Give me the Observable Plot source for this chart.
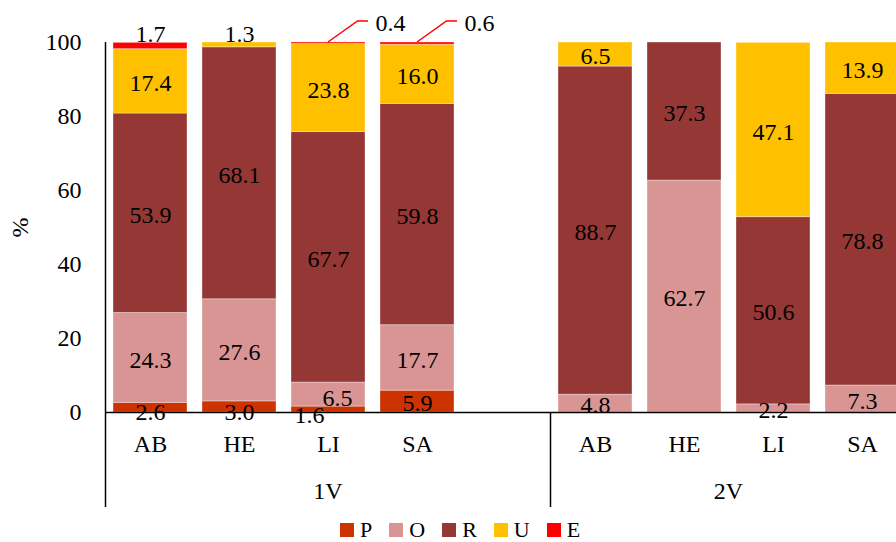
<!DOCTYPE html>
<html>
<head>
<meta charset="utf-8">
<script src="https://cdn.jsdelivr.net/npm/d3@7"></script>
<script src="https://cdn.jsdelivr.net/npm/@observablehq/plot@0.6"></script>
<style>
  html, body { margin: 0; padding: 0; background: #fff; overflow: hidden; }
  #chart { width: 896px; font-family: "Liberation Serif", "Times New Roman", serif; }
  .lg-swatches { font-family: "Liberation Serif", "Times New Roman", serif !important; font-size: 22px !important; line-height: 23px; min-height: 23px !important; height: 23px; color: #000; margin-top: 0 !important; margin-bottom: 0 !important; }
  .lg-swatch { margin-right: 17px !important; }
  .lg-swatch > svg { margin-right: 6px !important; }
</style>
</head>
<body>
<div id="chart"></div>
<script>
// Vine groups and sites
const groups = ["1V", "2V"];
const sites = ["AB", "HE", "LI", "SA"];

// Fractions, stacked bottom to top, and their fills
const fractions = ["P", "O", "R", "U", "E"];
const fractionColors = ["#CC3300", "#D99594", "#953735", "#FFC000", "#FF0000"];

// Share of each fraction (%), in order 1V AB, HE, LI, SA, 2V AB, HE, LI, SA
const P = [2.6, 3.0, 1.6, 5.9, 0, 0, 0, 0];
const O = [24.3, 27.6, 6.5, 17.7, 4.8, 62.7, 2.2, 7.3];
const R = [53.9, 68.1, 67.7, 59.8, 88.7, 37.3, 50.6, 78.8];
const U = [17.4, 1.3, 23.8, 16.0, 6.5, 0, 47.1, 13.9];
const E = [1.7, 0, 0.4, 0.6, 0, 0, 0, 0];

const yTicks = [0, 20, 40, 60, 80, 100];

// ---- table built from the arrays above ----
const series = [P, O, R, U, E];
const bars = groups.flatMap((g, gi) => sites.map((s, si) => ({key: `${g}|${s}`, i: gi * sites.length + si})));
const rows = bars.flatMap(({key, i}) =>
  fractions.map((f, fi) => ({key, fraction: f, value: series[fi][i], id: `${key}|${f}`}))
).filter(d => d.value > 0);
const totals = new Map(bars.map(({key}) => [key, d3.sum(rows.filter(r => r.key === key), r => r.value)]));

// category slots: an empty slot closes the first group
const domain = groups.flatMap((g, gi) => {
  const keys = sites.map(s => `${g}|${s}`);
  return gi < groups.length - 1 ? [...keys, `${g}|`] : keys;
});

// label placement tweaks (pixels) for crowded segments
const labelNudge = new Map([
  ["1V|AB|E", [0, -12]],
  ["1V|HE|U", [0, -11]],
  ["1V|AB|P", [0, 5]],
  ["1V|HE|P", [0, 5]],
  ["1V|LI|P", [-19, 6]],
  ["1V|LI|O", [9, 3.5]]
]);
const calloutIds = ["1V|LI|E", "1V|SA|E"];

const FONT = '"Liberation Serif", "Times New Roman", serif';
const stacked = (opts) => Plot.stackY({x: "key", y: "value", z: "fraction", order: fractions, ...opts});
const fmt = d => d.value.toFixed(1);

function bandInfo(x) {
  const step = x(domain[1]) - x(domain[0]);
  const bw = typeof x.bandwidth === "function" ? x.bandwidth() : (x.bandwidth ?? step * 0.83);
  return {step, bw, half: (step - bw) / 2};
}

// multi-level category frame: axis lines, group separators and group names
function categoryFrame(index, {x, y}) {
  const {bw, half} = bandInfo(x);
  const y0 = y(0), yBottom = y0 + 95;
  const g = d3.create("svg:g");
  const firstKeys = groups.map(gr => domain.find(k => k.startsWith(gr + "|")));
  const lastKey = domain[domain.length - 1];
  const edges = firstKeys.map(k => x(k) - half);
  edges.push(x(lastKey) + bw + half);
  g.append("line")
    .attr("x1", edges[0]).attr("x2", edges[0])
    .attr("y1", y(d3.max(yTicks))).attr("y2", yBottom)
    .attr("stroke", "#000").attr("stroke-width", 1.5);
  edges.slice(1, -1).forEach(ex => {
    g.append("line")
      .attr("x1", ex).attr("x2", ex)
      .attr("y1", y0).attr("y2", yBottom)
      .attr("stroke", "#000").attr("stroke-width", 1.5);
  });
  groups.forEach((gr, gi) => {
    g.append("text")
      .attr("x", (edges[gi] + edges[gi + 1]) / 2)
      .attr("y", y0 + 87)
      .attr("text-anchor", "middle")
      .attr("font-family", FONT)
      .attr("font-size", 24)
      .attr("fill", "#000")
      .text(gr);
  });
  return g.node();
}

// leader lines for the thin segments at the top of a bar
function calloutLines(index, {x, y}) {
  const {bw} = bandInfo(x);
  const g = d3.create("svg:g");
  calloutIds.forEach(id => {
    const key = id.split("|").slice(0, 2).join("|");
    const cx = x(key) + bw / 2, cy = y(totals.get(key));
    g.append("path")
      .attr("d", `M${cx},${cy}L${cx + 29.5},${cy - 21}H${cx + 40}`)
      .attr("fill", "none")
      .attr("stroke", "#FF0000")
      .attr("stroke-width", 1.5);
  });
  return g.node();
}

const textBase = {fontSize: 24, fontFamily: FONT, fill: "#000"};

const chart = Plot.plot({
  width: 896,
  height: 518,
  marginLeft: 105,
  marginRight: 0,
  marginTop: 42,
  marginBottom: 106,
  style: {fontFamily: FONT, fontSize: "24px", color: "#000", background: "#fff", overflow: "hidden"},
  x: {type: "band", domain, range: [105.5, 906.5], paddingInner: 0.17, paddingOuter: 0.085, label: null},
  y: {domain: [0, 100], label: null},
  color: {domain: fractions, range: fractionColors},
  marks: [
    Plot.barY(rows, stacked({fill: "fraction", stroke: "#fff", strokeOpacity: 0.35, strokeWidth: 1, clip: true})),
    Plot.ruleY([0], {stroke: "#000", strokeWidth: 1.5}),
    Plot.axisY({ticks: yTicks, tickSize: 0, tickPadding: 24, fontSize: 24, label: "%", labelAnchor: "center", labelOffset: 95, labelArrow: "none"}),
    Plot.axisX({tickSize: 0, tickPadding: 22, fontSize: 24, tickFormat: k => k.split("|")[1], label: null}),
    categoryFrame,
    calloutLines,
    // value labels centred in each segment
    Plot.text(rows, Plot.filter(d => !labelNudge.has(d.id) && !calloutIds.includes(d.id),
      stacked({text: fmt, dy: 2, ...textBase}))),
    ...[...labelNudge].map(([id, [dx, dy]]) =>
      Plot.text(rows, Plot.filter(d => d.id === id, stacked({text: fmt, dx, dy, ...textBase})))),
    Plot.text(rows, Plot.filter(d => calloutIds.includes(d.id),
      Plot.stackY2({x: "key", y: "value", z: "fraction", order: fractions, text: fmt, dx: 47, dy: -19.5, textAnchor: "start", ...textBase})))
  ]
});

const legend = chart.legend("color", {swatchSize: 14, marginLeft: 340, className: "lg"});
const root = document.getElementById("chart");
root.append(chart);
if (legend) root.append(legend);
</script>
</body>
</html>
